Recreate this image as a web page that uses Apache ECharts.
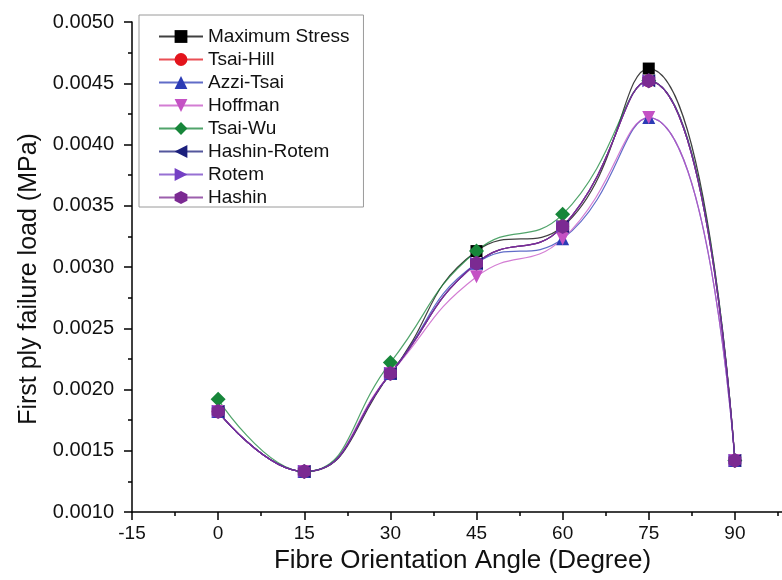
<!DOCTYPE html>
<html>
<head>
<meta charset="utf-8">
<script src="https://cdn.jsdelivr.net/npm/echarts@6/dist/echarts.min.js"></script>
<style>
  html, body { margin: 0; padding: 0; background: #fff; }
  #chart { width: 782px; height: 580px; }
</style>
</head>
<body>
<div id="chart"></div>
<script>
// fibre angles (degree)
const angles = [0, 15, 30, 45, 60, 75, 90];

// first ply failure load (MPa)
const maxStress   = [0.00182, 0.00133, 0.00213, 0.00313, 0.00333, 0.00462, 0.00142];
const tsaiHill    = [0.00182, 0.00133, 0.00213, 0.00303, 0.00333, 0.00452, 0.00142];
const azziTsai    = [0.00182, 0.00133, 0.00213, 0.00303, 0.00323, 0.00422, 0.00142];
const hoffman     = [0.00182, 0.00133, 0.00213, 0.00292, 0.00323, 0.00422, 0.00142];
const tsaiWu      = [0.00192, 0.00133, 0.00222, 0.00313, 0.00343, 0.00452, 0.00142];
const hashinRotem = [0.00182, 0.00133, 0.00213, 0.00303, 0.00333, 0.00452, 0.00142];
const rotem       = [0.00182, 0.00133, 0.00213, 0.00303, 0.00333, 0.00452, 0.00142];
const hashin      = [0.00182, 0.00133, 0.00213, 0.00303, 0.00333, 0.00452, 0.00142];

const seriesNames = ["Maximum Stress", "Tsai-Hill", "Azzi-Tsai", "Hoffman", "Tsai-Wu", "Hashin-Rotem", "Rotem", "Hashin"];
const seriesData = [maxStress, tsaiHill, azziTsai, hoffman, tsaiWu, hashinRotem, rotem, hashin];

const hexagon = "path://M0,-1L0.866,-0.5L0.866,0.5L0,1L-0.866,0.5L-0.866,-0.5Z";
const styles = [
    { color: "#000000", symbol: "rect", rotate: 0, size: 12 },
    { color: "#e3141c", symbol: "circle", rotate: 0, size: 13 },
    { color: "#2b3bb5", symbol: "triangle", rotate: 0, size: 13 },
    { color: "#c451c4", symbol: "triangle", rotate: 180, size: 13 },
    { color: "#17863a", symbol: "diamond", rotate: 0, size: 15 },
    { color: "#1b1f7c", symbol: "triangle", rotate: 90, size: 13 },
    { color: "#7440c4", symbol: "triangle", rotate: -90, size: 13 },
    { color: "#7b2a92", symbol: hexagon, rotate: 0, size: 15 }
];

const font = "'Liberation Sans', Arial, sans-serif";

const chart = echarts.init(document.getElementById("chart"));

const series = seriesNames.map((name, i) => ({
    name,
    type: "line",
    smooth: 0.5,
    symbol: styles[i].symbol,
    symbolRotate: styles[i].rotate,
    symbolSize: styles[i].size,
    symbolKeepAspect: true,
    showAllSymbol: true,
    animation: false,
    lineStyle: { width: 1.2, color: styles[i].color, opacity: 0.75 },
    itemStyle: { color: styles[i].color },
    data: angles.map((a, j) => [a, seriesData[i][j]])
}));

chart.setOption({
    backgroundColor: "#fff",
    animation: false,
    // axis runs past the right edge of the picture, like the cropped original
    grid: { left: 132, top: 22, height: 490, width: 689, outerBoundsMode: "none", containLabel: false },
    legend: {
        orient: "vertical",
        left: 139,
        top: 15,
        padding: [12, 14, 0, 19],
        itemWidth: 44,
        itemHeight: 16,
        itemGap: 4,
        backgroundColor: "#fff",
        borderColor: "#9a9a9a",
        borderWidth: 1,
        borderRadius: 0,
        textStyle: { fontFamily: font, fontSize: 19, color: "#111", lineHeight: 16 },
        data: seriesNames
    },
    xAxis: {
        type: "value",
        min: -15,
        max: 105,
        interval: 15,
        name: "Fibre Orientation Angle (Degree)",
        nameLocation: "middle",
        nameGap: 25,
        nameTextStyle: { fontFamily: font, fontSize: 26, color: "#111", padding: [0, 28, 0, 0] },
        axisLine: { onZero: false, lineStyle: { color: "#000", width: 1.5 } },
        axisTick: { inside: false, length: 8, lineStyle: { color: "#000", width: 1.5 } },
        minorTick: { show: true, splitNumber: 2, length: 4, lineStyle: { color: "#000", width: 1.5 } },
        axisLabel: { fontFamily: font, fontSize: 19, color: "#111", margin: 12, showMaxLabel: false },
        splitLine: { show: false }
    },
    yAxis: {
        type: "value",
        min: 0.001,
        max: 0.005,
        interval: 0.0005,
        name: "First ply failure load (MPa)",
        nameLocation: "middle",
        nameGap: 88,
        nameTextStyle: { fontFamily: font, fontSize: 25, color: "#111", padding: [0, 24, 0, 0] },
        axisLine: { show: true, onZero: false, lineStyle: { color: "#000", width: 1.5 } },
        axisTick: { show: true, inside: false, length: 8, lineStyle: { color: "#000", width: 1.5 } },
        minorTick: { show: true, splitNumber: 2, length: 4, lineStyle: { color: "#000", width: 1.5 } },
        axisLabel: {
            fontFamily: font, fontSize: 20, color: "#111", margin: 18,
            formatter: v => v.toFixed(4)
        },
        splitLine: { show: false }
    },
    series
});
</script>
</body>
</html>
